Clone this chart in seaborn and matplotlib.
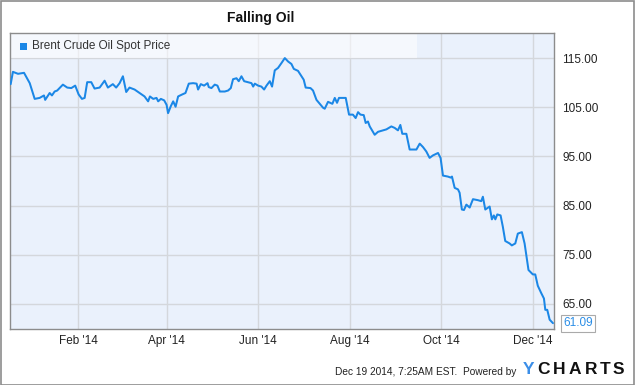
import numpy as np
import pandas as pd
import matplotlib
matplotlib.use("Agg")
import matplotlib.pyplot as plt
import matplotlib.dates as mdates
from matplotlib.patches import Rectangle
import seaborn as sns

# ---- data ----
start_date = "2013-12-18"
day_offset = [0, 1.5, 4.9, 8.9, 12.7, 16.0, 19.3, 22.2, 23.0, 26.0, 27.5, 29.3, 31.0, 34.8,
              37.7, 40.4, 43.0, 45.3, 47.5, 49.3, 51.0, 53.7, 55.9, 59.3, 62.6, 64.8, 68.1,
              70.3, 72.6, 74.8, 77.0, 79.2, 82.6, 85.9, 89.2, 91.6, 92.8, 95.0, 97.2, 98.3,
              100.1, 102.3, 103.9, 104.9, 106.7, 108.3, 109.9, 111.6, 114.3, 116.5, 118.7,
              121.6, 123.9, 124.9, 126.7, 128.9, 131.2, 132.0, 133.8, 136.0, 137.8, 139.4,
              142.7, 144.9, 146.7, 148.2, 150.5, 152.0, 153.8, 155.6, 158.2, 160.5, 161.6,
              162.7, 164.9, 167.1, 168.9, 170.5, 172.7, 174.2, 176.0, 178.2, 180.5, 182.7,
              184.9, 187.1, 188.7, 191.5, 193.8, 195.3, 196.6, 199.8, 201.5, 203.8, 206.0,
              208.2, 209.3, 211.5, 214.4, 216.0, 217.5, 218.8, 221.5, 223.3, 225.5, 228.1,
              229.9, 231.5, 233.1, 235.3, 236.6, 238.1, 239.3, 242.6, 244.8, 248.1, 250.4,
              253.7, 255.9, 258.1, 259.7, 261.0, 263.7, 265.9, 270.4, 272.6, 274.8, 277.0,
              279.2, 281.4, 284.8, 286.5, 288.1, 291.4, 293.2, 294.1, 295.9, 298.1, 299.2,
              300.7, 302.1, 303.7, 305.9, 308.1, 311.4, 313.6, 314.7, 316.3, 319.2, 320.7,
              322.0, 323.0, 324.3, 326.5, 328.0, 329.6, 332.5, 334.0, 336.3, 338.0, 340.7,
              342.5, 345.1, 348.0, 349.6, 351.3, 353.6, 355.4, 356.3, 357.6, 359.2, 361.4]
price = [109.7, 112.2, 111.8, 112.0, 109.9, 106.7, 106.9, 107.4, 106.5, 107.9, 107.4, 108.2,
         108.4, 109.6, 109.0, 108.9, 109.4, 107.6, 106.7, 106.9, 110.1, 110.1, 108.8, 109.0,
         110.4, 109.0, 109.7, 109.0, 109.9, 111.3, 108.1, 109.0, 108.6, 107.9, 107.2, 106.2,
         107.2, 106.7, 106.9, 106.2, 106.7, 106.4, 105.5, 103.8, 105.2, 106.2, 105.1, 107.2,
         107.6, 107.9, 109.8, 109.9, 109.8, 108.6, 109.7, 109.4, 109.9, 109.1, 108.9, 109.6,
         109.4, 108.2, 108.2, 108.4, 108.9, 110.7, 110.9, 110.3, 111.3, 110.3, 110.1, 109.9,
         109.2, 109.8, 109.4, 109.2, 108.6, 109.4, 110.3, 109.2, 112.5, 113.0, 114.0, 115.0,
         114.3, 113.8, 112.8, 112.4, 111.3, 110.6, 109.0, 108.9, 108.4, 106.5, 105.7, 104.9,
         104.7, 106.1, 105.7, 106.9, 105.9, 106.9, 106.9, 106.9, 103.5, 103.5, 102.8, 104.0,
         103.5, 103.4, 101.8, 102.1, 101.1, 99.4, 100.0, 100.3, 100.5, 101.1, 100.8, 100.3,
         101.4, 99.6, 99.6, 96.4, 96.4, 97.6, 96.9, 96.0, 94.7, 95.2, 95.7, 94.7, 91.1, 90.9,
         90.7, 90.9, 88.6, 88.3, 87.6, 84.2, 84.1, 85.2, 84.6, 86.3, 86.1, 85.9, 86.8, 84.2,
         84.8, 82.2, 83.0, 82.2, 83.2, 83.0, 80.7, 77.8, 77.3, 76.9, 77.3, 79.3, 79.6, 77.3,
         71.9, 71.0, 71.0, 68.7, 67.2, 66.1, 63.8, 63.8, 61.8, 61.09]
y_ticks = [65, 75, 85, 95, 105, 115]
x_tick_dates = ["2014-02-01", "2014-04-01", "2014-06-01", "2014-08-01", "2014-10-01", "2014-12-01"]
x_tick_labels = ["Feb '14", "Apr '14", "Jun '14", "Aug '14", "Oct '14", "Dec '14"]
series_name = "Brent Crude Oil Spot Price"
last_label = "61.09"

df = pd.DataFrame({
    "date": pd.Timestamp(start_date) + pd.to_timedelta(day_offset, unit="D"),
    "price": price,
})

sns.set_style("white")
plt.rcParams["font.family"] = ["Liberation Sans", "DejaVu Sans"]

W, H = 635, 385
fig = plt.figure(figsize=(W / 100, H / 100), dpi=100)
fig.patch.set_facecolor("white")
ax = fig.add_axes([10 / W, 1 - 329 / H, 544 / W, 296 / H])
ax.set_facecolor("#eaf1fc")

line_color = "#1b87e6"
sns.lineplot(data=df, x="date", y="price", ax=ax, color=line_color, linewidth=1.45, zorder=5)

x0 = pd.Timestamp(start_date) - pd.Timedelta(days=0.45)
x1 = pd.Timestamp(start_date) + pd.Timedelta(days=362.1)
ax.set_xlim(x0, x1)
ax.set_ylim(59.9, 120.1)

ax.set_xticks([pd.Timestamp(d) for d in x_tick_dates])
ax.set_xticklabels(x_tick_labels)
ax.set_yticks(y_ticks)
ax.set_yticklabels([f"{v:.2f}" for v in y_ticks])
ax.yaxis.tick_right()
ax.tick_params(axis="both", length=0, labelsize=8.5, colors="#222222")
ax.tick_params(axis="y", pad=6)
ax.tick_params(axis="x", pad=4)
ax.grid(True, color="#d4d7dc", linewidth=1.0, zorder=1)
ax.set_axisbelow(True)
ax.set_xlabel("")
ax.set_ylabel("")
for s in ax.spines.values():
    s.set_color("#8c8c8c")
    s.set_linewidth(1.0)

# legend band
band = Rectangle((0, (115 - 59.9) / (120.1 - 59.9)), (417 - 10) / 544,
                 1 - (115 - 59.9) / (120.1 - 59.9),
                 transform=ax.transAxes, facecolor="white", alpha=0.55,
                 edgecolor="none", zorder=2)
ax.add_patch(band)
ax.add_patch(Rectangle((20 / W, 1 - 50 / H), 7 / W, 7 / H, transform=fig.transFigure,
                       facecolor=line_color, edgecolor="none", zorder=6))
fig.text(32 / W, 1 - 46.5 / H, series_name, fontsize=8.5, color="#333333",
         va="center", ha="left")

# last-value label
ax.annotate(last_label, xy=(1.0, (61.09 - 59.9) / (120.1 - 59.9)), xycoords="axes fraction",
            xytext=(6.5, 0), textcoords="offset points", fontsize=8.5, color="#2a8de6",
            va="center", ha="left",
            bbox=dict(boxstyle="square,pad=0.2", facecolor="white", edgecolor="#aaaaaa",
                      linewidth=0.8),
            annotation_clip=False, zorder=10)

# title
fig.text(261 / W, 1 - 18 / H, "Falling Oil", fontsize=10, fontweight="bold",
         color="#111111", ha="center", va="center")

# footer
fig.text(516 / W, 1 - 372 / H, "Dec 19 2014, 7:25AM EST.  Powered by", fontsize=7.3,
         color="#222222", ha="right", va="center")
fig.text(523 / W, 1 - 369 / H, "Y", fontsize=12.5, fontweight="bold", color="#3b8ee8",
         ha="left", va="center")
logo_left = [537, 553, 569, 585, 600, 613]
for x, ch in zip(logo_left, "CHARTS"):
    fig.text(x / W, 1 - 369 / H, ch, fontsize=12.5, fontweight="bold",
             color="#111111", ha="left", va="center")

# outer border
fig.patches.append(Rectangle((0.5 / W, 0.5 / H), 1 - 1.5 / W, 1 - 1.5 / H,
                             transform=fig.transFigure, fill=False,
                             edgecolor="#8c8c8c", linewidth=1.2))

fig.savefig("out.png", dpi=100)
